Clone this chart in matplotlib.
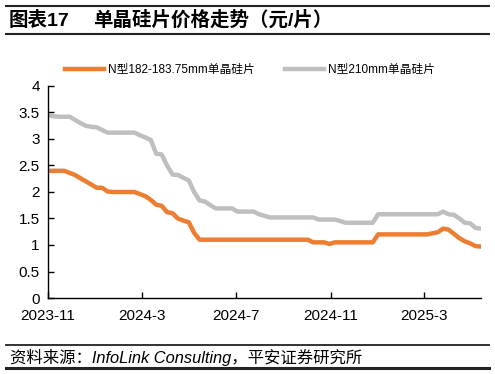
import numpy as np
import pandas as pd
import matplotlib
matplotlib.use("Agg")
import matplotlib.pyplot as plt
from matplotlib.lines import Line2D

plt.rcParams["font.family"] = ["Liberation Sans", "Noto Sans CJK SC", "DejaVu Sans"]

# -------------------- data (weekly) --------------------
start_date = "2023-11-01"
n182 = [2.40, 2.40, 2.40, 2.40, 2.36, 2.32, 2.26, 2.20, 2.14, 2.08,
        2.08, 2.01, 2.00, 2.00, 2.00, 2.00, 2.00, 1.96, 1.92, 1.85,
        1.76, 1.74, 1.62, 1.60, 1.50, 1.46, 1.43, 1.23, 1.10, 1.10,
        1.10, 1.10, 1.10, 1.10, 1.10, 1.10, 1.10, 1.10, 1.10, 1.10,
        1.10, 1.10, 1.10, 1.10, 1.10, 1.10, 1.10, 1.10, 1.10, 1.05,
        1.05, 1.05, 1.02, 1.05, 1.05, 1.05, 1.05, 1.05, 1.05, 1.05,
        1.05, 1.20, 1.20, 1.20, 1.20, 1.20, 1.20, 1.20, 1.20, 1.20,
        1.20, 1.22, 1.24, 1.31, 1.29, 1.21, 1.13, 1.07, 1.03, 0.98,
        0.97]
n210 = [3.45, 3.43, 3.42, 3.42, 3.42, 3.36, 3.30, 3.25, 3.23, 3.22,
        3.17, 3.12, 3.12, 3.12, 3.12, 3.12, 3.12, 3.07, 3.03, 2.98,
        2.72, 2.71, 2.50, 2.33, 2.32, 2.27, 2.22, 2.00, 1.84, 1.82,
        1.75, 1.69, 1.69, 1.69, 1.69, 1.63, 1.63, 1.63, 1.63, 1.58,
        1.55, 1.52, 1.52, 1.52, 1.52, 1.52, 1.52, 1.52, 1.52, 1.52,
        1.48, 1.48, 1.48, 1.48, 1.45, 1.42, 1.42, 1.42, 1.42, 1.42,
        1.42, 1.58, 1.58, 1.58, 1.58, 1.58, 1.58, 1.58, 1.58, 1.58,
        1.58, 1.58, 1.58, 1.63, 1.58, 1.57, 1.50, 1.42, 1.41, 1.32,
        1.31]
dates = pd.date_range(start_date, periods=len(n182), freq="7D")

tick_dates = ["2023-11-01", "2024-03-01", "2024-07-01", "2024-11-01", "2025-03-01"]
tick_labels = ["2023-11", "2024-3", "2024-7", "2024-11", "2025-3"]
label_182 = "N型182-183.75mm单晶硅片"
label_210 = "N型210mm单晶硅片"

# -------------------- figure --------------------
W, H = 495, 374
fig = plt.figure(figsize=(W / 100, H / 100), dpi=100)
ax = fig.add_axes([48 / W, 1 - 298 / H, (481 - 48) / W, (298 - 86) / H])

ax.plot(dates, n182, color="#ED7D31", lw=3.2, label=label_182, solid_joinstyle="round")
ax.plot(dates, n210, color="#BFBFBF", lw=3.2, label=label_210, solid_joinstyle="round")

ax.set_ylim(0, 4)
ax.set_yticks(np.arange(0, 4.01, 0.5))
ax.set_yticklabels(["0", "0.5", "1", "1.5", "2", "2.5", "3", "3.5", "4"])
ax.set_xlim(dates[0], dates[-1])
ax.set_xticks(pd.to_datetime(tick_dates))
ax.set_xticklabels(tick_labels)

for s in ("top", "right"):
    ax.spines[s].set_visible(False)
for s in ("left", "bottom"):
    ax.spines[s].set_linewidth(1.0)
    ax.spines[s].set_color("black")
ax.tick_params(direction="in", length=4, width=1.0, labelsize=11, colors="black")
ax.tick_params(axis="x", pad=8)
ax.tick_params(axis="y", pad=6)

fig.legend(loc="center", bbox_to_anchor=(0.505, 1 - 70 / H), ncol=2, frameon=False,
           fontsize=8.5, handlelength=3.3, columnspacing=2.6, handletextpad=0.35)

# -------------------- header / footer --------------------
for y, w in ((6, 1.5), (34, 1.5), (345, 1.3), (368, 2.2)):
    fig.add_artist(Line2D([6 / W, 489 / W], [1 - y / H, 1 - y / H], color="#222222",
                          lw=w, transform=fig.transFigure))
fig.text(9 / W, 1 - 20 / H, "图表17", fontsize=14, fontweight="bold", va="center", ha="left")
fig.text(93 / W, 1 - 20 / H, "单晶硅片价格走势（元/片）", fontsize=14, fontweight="bold",
         va="center", ha="left")
fig.text(10 / W, 1 - 357 / H, "资料来源：InfoLink Consulting，平安证券研究所", fontsize=11.8,
         style="italic", va="center", ha="left")

fig.savefig("out.png", dpi=100)
